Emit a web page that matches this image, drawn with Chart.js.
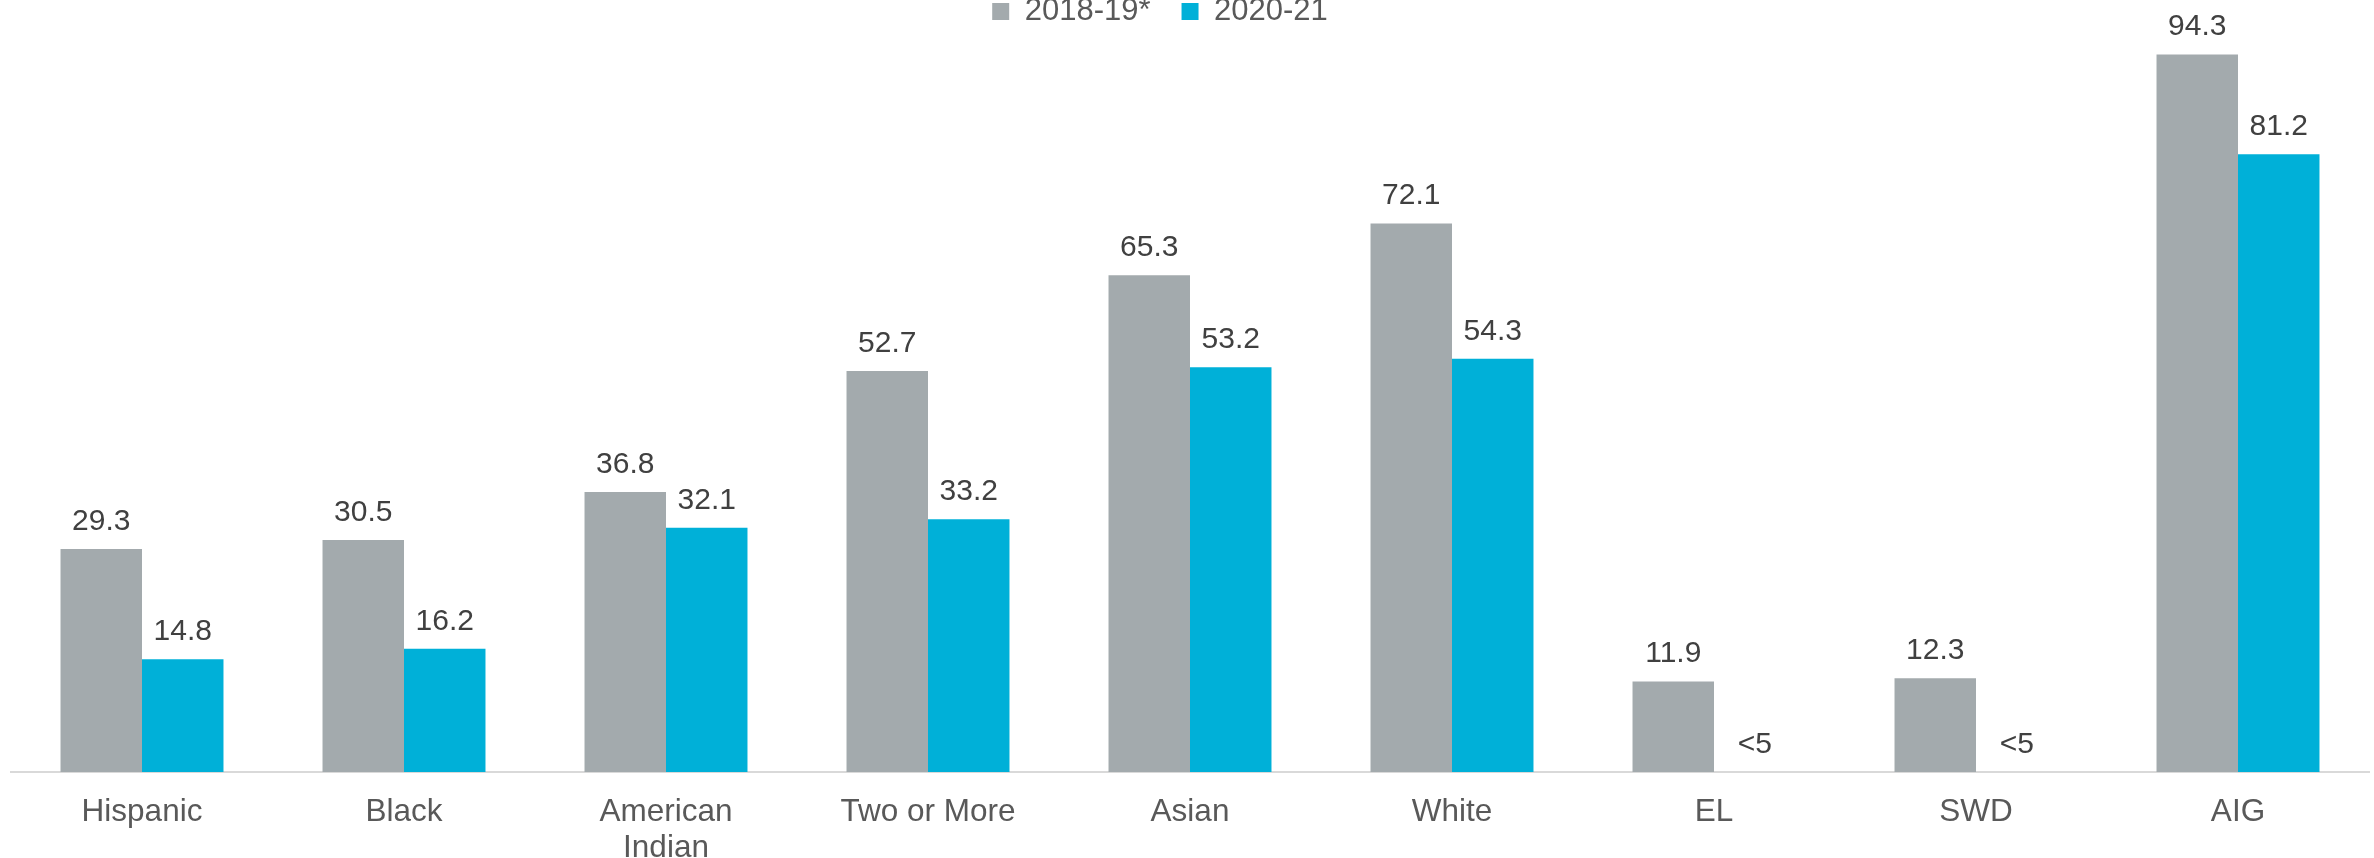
<!DOCTYPE html>
<html>
<head>
<meta charset="utf-8">
<script src="https://cdn.jsdelivr.net/npm/chart.js@4/dist/chart.umd.min.js"></script>
<style>
  html, body { margin: 0; padding: 0; background: #fff; }
  #wrap { width: 2374px; height: 858px; }
</style>
</head>
<body>
<div id="wrap"><canvas id="chart"></canvas></div>
<script>
const categories = ['Hispanic', 'Black', ['American', 'Indian'], 'Two or More', 'Asian', 'White', 'EL', 'SWD', 'AIG'];
const values1819 = [29.3, 30.5, 36.8, 52.7, 65.3, 72.1, 11.9, 12.3, 94.3];
const values2021 = [14.8, 16.2, 32.1, 33.2, 53.2, 54.3, 0, 0, 81.2];
const labels1819 = ['29.3', '30.5', '36.8', '52.7', '65.3', '72.1', '11.9', '12.3', '94.3'];
const labels2021 = ['14.8', '16.2', '32.1', '33.2', '53.2', '54.3', '<5', '<5', '81.2'];
const seriesNames = ['2018-19*', '2020-21'];

const FONT = '"Liberation Sans", Arial, sans-serif';

// draws the value above each bar (no datalabels plugin available offline)
const valueLabels = {
    id: 'valueLabels',
    afterDatasetsDraw(chart) {
        const ctx = chart.ctx;
        const texts = [labels1819, labels2021];
        ctx.save();
        ctx.font = '30px ' + FONT;
        ctx.fillStyle = '#404040';
        ctx.textAlign = 'center';
        ctx.textBaseline = 'alphabetic';
        chart.data.datasets.forEach((ds, i) => {
            chart.getDatasetMeta(i).data.forEach((bar, j) => {
                ctx.fillText(texts[i][j], bar.x, bar.y - 19);
            });
        });
        ctx.restore();
    }
};

// the original legend sits a little left of centre
const legendNudge = {
    id: 'legendNudge',
    afterLayout(chart) {
        chart.legend.left -= 30;
        chart.legend.right -= 30;
    }
};

new Chart(document.getElementById('chart').getContext('2d'), {
    type: 'bar',
    data: {
        labels: categories,
        datasets: [
            { label: seriesNames[0], data: values1819, backgroundColor: '#a3aaad' },
            { label: seriesNames[1], data: values2021, backgroundColor: '#00b0d8' }
        ]
    },
    options: {
        responsive: true,
        maintainAspectRatio: false,
        animation: false,
        datasets: {
            bar: { categoryPercentage: 0.622, barPercentage: 1.0 }
        },
        layout: {
            padding: { top: -35, left: 11, right: 5, bottom: -31 }
        },
        plugins: {
            legend: {
                position: 'top',
                labels: {
                    boxWidth: 17,
                    boxHeight: 17,
                    padding: 31,
                    color: '#595959',
                    font: { family: FONT, size: 31 }
                }
            },
            tooltip: { enabled: false }
        },
        scales: {
            x: {
                grid: { display: false, drawTicks: false },
                border: { color: '#d9d9d9', width: 2 },
                ticks: {
                    padding: 22,
                    color: '#595959',
                    maxRotation: 0,
                    autoSkip: false,
                    font: { family: FONT, size: 31.5, lineHeight: 1.16 }
                }
            },
            y: {
                display: false,
                min: 0,
                max: 96.6
            }
        }
    },
    plugins: [valueLabels, legendNudge]
});
</script>
</body>
</html>
